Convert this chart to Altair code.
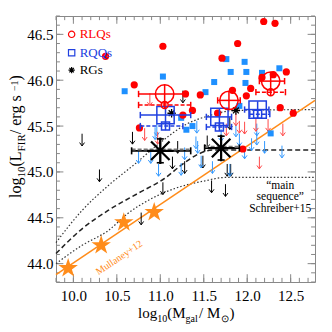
import altair as alt
import pandas as pd

XMIN, XMAX = 9.8, 12.78
YMIN, YMAX = 43.8, 46.7
W, H = 259, 266
SERIF = "Liberation Serif"

RED = "#ff0000"
RED_ARR = "#ff4a4a"
BLUE_PT = "#1e90ff"
BLUE_ARR = "#3399ff"
BLUE_BIG = "#2040e0"
ORANGE = "#ff8c1a"

# ---- data ----
x_major = [10.0, 10.5, 11.0, 11.5, 12.0, 12.5]
y_major = [44.0, 44.5, 45.0, 45.5, 46.0, 46.5]
x_minor = [round(9.8 + 0.1 * i, 2) for i in range(30)]
y_minor = [round(43.8 + 0.1 * i, 2) for i in range(30)]

rlq_x = [10.37, 11.03, 10.70, 10.76, 12.19, 12.32, 11.89, 11.71, 12.45, 12.17, 12.30,
         12.04, 11.83, 11.99, 11.46, 11.29, 11.37, 11.26, 12.38, 12.53, 11.66, 11.95]
rlq_y = [46.26, 46.37, 45.95, 45.48, 46.64, 46.62, 46.40, 46.24, 46.09, 46.03, 46.06,
         45.91, 45.89, 45.83, 45.84, 45.85, 45.67, 45.62, 45.70, 45.64, 45.64, 45.25]

rqq_x = [10.59, 11.03, 11.76, 11.97, 11.81, 11.99, 11.98, 12.17, 12.37, 11.52, 12.27,
         11.30, 11.91, 11.37, 11.24, 11.62]
rqq_y = [45.88, 46.04, 46.23, 46.20, 46.09, 46.09, 45.97, 46.08, 46.13, 45.87, 45.42,
         45.46, 45.72, 45.50, 45.59, 45.98]

rg_x = [11.13, 11.87]
rg_y = [45.64, 45.67]

blk_arr_x = [10.10, 10.68, 10.30, 10.78, 11.03, 11.26, 11.20, 11.28, 11.49, 11.14,
             11.54, 11.59, 11.75, 11.77, 11.81, 11.80]
blk_arr_y = [45.35, 45.37, 44.96, 44.49, 44.82, 45.82, 45.27, 45.05, 45.11, 45.10,
             45.33, 44.84, 44.80, 45.02, 45.02, 45.53]

blu_arr_x = [10.98, 11.24, 11.43, 11.47, 11.60, 11.80, 11.91, 11.97, 12.11, 12.11,
             12.40, 12.20, 11.42, 10.75, 10.89, 10.94, 11.41, 10.96, 11.28, 11.70,
             11.87, 12.05]
blu_arr_y = [45.02, 45.03, 45.27, 45.11, 45.05, 45.02, 45.35, 45.21, 45.46, 45.36,
             45.22, 45.27, 45.49, 45.16, 45.16, 45.42, 45.32, 45.46, 45.20, 45.40,
             45.45, 45.30]

red_arr_x = [11.91, 11.97, 12.10, 12.24, 11.76, 12.41, 12.14, 10.82, 10.88, 10.97, 11.87]
red_arr_y = [45.49, 45.48, 45.51, 45.51, 45.46, 45.46, 45.10, 45.41, 45.79, 45.37, 45.57]

# stacked RLQs (solid) and their dashed counterparts
rlq_big_x = [11.05, 11.79, 12.27]
rlq_big_y = [45.85, 45.78, 45.99]
rlq_big_xlo = [10.75, 11.66, 12.14]
rlq_big_xhi = [11.29, 11.92, 12.43]
rlq_sm_x = [11.05, 12.27]
rlq_sm_y = [45.73, 45.87]
rlq_sm_xlo = [10.75, 12.10]
rlq_sm_xhi = [11.35, 12.44]

rqq_big_x = [11.06, 11.68, 12.12]
rqq_big_y = [45.62, 45.60, 45.68]
rqq_big_xlo = [10.77, 11.53, 11.97]
rqq_big_xhi = [11.35, 11.82, 12.25]
rqq_sm_x = [11.06, 11.68, 12.12]
rqq_sm_y = [45.50, 45.49, 45.63]
rqq_sm_xlo = [10.77, 11.53, 12.03]
rqq_sm_xhi = [11.26, 11.82, 12.26]

rg_big_x = [11.00, 11.70]
rg_big_y = [45.23, 45.26]
rg_big_xlo = [10.67, 11.51]
rg_big_xhi = [11.35, 11.91]

star_x = [9.94, 10.32, 10.58, 10.93]
star_y = [43.95, 44.20, 44.45, 44.56]
mull_x = [9.8, 12.78]
mull_y = [43.88, 45.78]

ms_hi_x = [9.8, 10.1, 10.4, 10.7, 11.0, 11.3, 11.55, 11.85, 12.78]
ms_hi_y = [44.23, 44.58, 44.85, 45.08, 45.32, 45.52, 45.61, 45.67, 45.68]
ms_mid_x = [9.8, 10.1, 10.4, 10.75, 11.05, 11.25, 11.45, 11.6, 12.78]
ms_mid_y = [44.11, 44.38, 44.58, 44.77, 44.93, 45.08, 45.20, 45.24, 45.24]
ms_lo_x = [9.8, 10.1, 10.4, 10.63, 10.88, 11.2, 11.5, 11.75, 12.78]
ms_lo_y = [44.0, 44.2, 44.36, 44.55, 44.70, 44.83, 44.90, 44.94, 44.94]

legend_labels = ["RLQs", "RQQs", "RGs"]
legend_y = [46.50, 46.30, 46.11]
legend_x = 9.98

ms_text = ["\u201cmain", "sequence\u201d", "Schreiber+15"]
ms_text_x = 12.38
ms_text_y = [44.85, 44.725, 44.60]

mull_label = "Mullaney+12"
mull_label_x = 10.27
mull_label_y = 43.90

# ---- helpers ----
xs = alt.Scale(domain=[XMIN, XMAX], nice=False, zero=False)
ys = alt.Scale(domain=[YMIN, YMAX], nice=False, zero=False)
AXX = alt.Axis(values=x_major, format=".1f", ticks=False, domain=False, grid=False, title=None,
               labelFont=SERIF, labelFontSize=15, labelColor="black", labelPadding=6)
AXY = alt.Axis(values=y_major, format=".1f", ticks=False, domain=False, grid=False, title=None,
               labelFont=SERIF, labelFontSize=15, labelColor="black", labelPadding=3)

def X(f="x"):
    return alt.X(f"{f}:Q", scale=xs, axis=AXX)

def Y(f="y"):
    return alt.Y(f"{f}:Q", scale=ys, axis=AXY)

def df(**kw):
    return pd.DataFrame(kw)

ARROW = "M0,-1L0,1M-0.4,0.45L0,1L0.4,0.45"
VCAP = "M0,-1L0,1"
HCAP = "M-1,0L1,0"
AST = "M-1,0L1,0M0,-1L0,1M-0.7,-0.7L0.7,0.7M-0.7,0.7L0.7,-0.7"
STAR = ("M0,-1L0.225,-0.309L0.951,-0.309L0.363,0.118L0.588,0.809L0,0.382"
        "L-0.588,0.809L-0.363,0.118L-0.951,-0.309L-0.225,-0.309Z")

layers = []

# frame ticks (inward)
MJx, MNx = 0.085, 0.045
MJy, MNy = 0.085, 0.045
tb = pd.concat([
    df(x=x_major, y=[YMIN] * 6, y2=[YMIN + MJy] * 6),
    df(x=x_minor, y=[YMIN] * 30, y2=[YMIN + MNy] * 30),
    df(x=x_major, y=[YMAX] * 6, y2=[YMAX - MJy] * 6),
    df(x=x_minor, y=[YMAX] * 30, y2=[YMAX - MNy] * 30),
], ignore_index=True)
layers.append(alt.Chart(tb).mark_rule(color="#888", strokeWidth=1).encode(x=X(), y=Y(), y2="y2:Q"))
tl = pd.concat([
    df(y=y_major, x=[XMIN] * 6, x2=[XMIN + MJx] * 6),
    df(y=y_minor, x=[XMIN] * 30, x2=[XMIN + MNx] * 30),
    df(y=y_major, x=[XMAX] * 6, x2=[XMAX - MJx] * 6),
    df(y=y_minor, x=[XMAX] * 30, x2=[XMAX - MNx] * 30),
], ignore_index=True)
layers.append(alt.Chart(tl).mark_rule(color="#888", strokeWidth=1).encode(x=X(), x2="x2:Q", y=Y()))

# main sequence curves
layers.append(alt.Chart(df(x=ms_hi_x, y=ms_hi_y)).mark_line(
    color="#333", strokeDash=[1.5, 2], strokeWidth=1.2, interpolate="monotone").encode(x=X(), y=Y()))
layers.append(alt.Chart(df(x=ms_mid_x, y=ms_mid_y)).mark_line(
    color="#222", strokeDash=[5, 3], strokeWidth=1.5, interpolate="monotone").encode(x=X(), y=Y()))
layers.append(alt.Chart(df(x=ms_lo_x, y=ms_lo_y)).mark_line(
    color="#333", strokeDash=[1.5, 2], strokeWidth=1.2, interpolate="monotone").encode(x=X(), y=Y()))

# Mullaney relation
layers.append(alt.Chart(df(x=mull_x, y=mull_y)).mark_line(color=ORANGE, strokeWidth=1.5).encode(x=X(), y=Y()))
layers.append(alt.Chart(df(x=star_x, y=star_y)).mark_point(
    shape=STAR, filled=True, size=420, color=ORANGE, opacity=1).encode(x=X(), y=Y()))

# upper-limit arrows
for ax_, ay_, col in [(blk_arr_x, blk_arr_y, "black"), (blu_arr_x, blu_arr_y, BLUE_ARR),
                      (red_arr_x, red_arr_y, RED_ARR)]:
    layers.append(alt.Chart(df(x=ax_, y=ay_)).mark_point(
        shape=ARROW, filled=False, size=150, color=col, strokeWidth=1, opacity=1).encode(x=X(), y=Y()))

# individual detections
layers.append(alt.Chart(df(x=rqq_x, y=rqq_y)).mark_point(
    shape="square", filled=True, size=36, color=BLUE_PT, opacity=1).encode(x=X(), y=Y()))
layers.append(alt.Chart(df(x=rlq_x, y=rlq_y)).mark_point(
    shape="circle", filled=True, size=52, color=RED, opacity=1).encode(x=X(), y=Y()))
layers.append(alt.Chart(df(x=rg_x, y=rg_y)).mark_point(
    shape=AST, filled=False, size=70, color="black", strokeWidth=1.3, opacity=1).encode(x=X(), y=Y()))

def stack(xv, yv, xlo, xhi, yerr, col, shape, size, dash, sw):
    d = df(x=xv, y=yv, xlo=xlo, xhi=xhi,
           ylo=[v - yerr for v in yv], yhi=[v + yerr for v in yv])
    kw = dict(color=col, strokeWidth=sw)
    if dash:
        kw["strokeDash"] = [4, 2]
    out = [
        alt.Chart(d).mark_rule(**kw).encode(x=X("xlo"), x2="xhi:Q", y=Y()),
        alt.Chart(d).mark_rule(color=col, strokeWidth=sw).encode(x=X(), y=Y("ylo"), y2="yhi:Q"),
        alt.Chart(d).mark_point(shape=VCAP, filled=False, size=40, color=col, strokeWidth=sw,
                                opacity=1).encode(x=X("xlo"), y=Y()),
        alt.Chart(d).mark_point(shape=VCAP, filled=False, size=40, color=col, strokeWidth=sw,
                                opacity=1).encode(x=X("xhi"), y=Y()),
        alt.Chart(d).mark_point(shape=shape, filled=False, size=size, color=col, strokeWidth=sw,
                                opacity=1).encode(x=X(), y=Y()),
    ]
    return out

layers += stack(rqq_sm_x, rqq_sm_y, rqq_sm_xlo, rqq_sm_xhi, 0.045, BLUE_BIG, "square", 64, True, 1.5)
layers += stack(rqq_big_x, rqq_big_y, rqq_big_xlo, rqq_big_xhi, 0.09, BLUE_BIG, "square", 300, False, 1.5)
layers += stack(rlq_sm_x, rlq_sm_y, rlq_sm_xlo, rlq_sm_xhi, 0.04, RED, "circle", 49, True, 1.5)
layers += stack(rlq_big_x, rlq_big_y, rlq_big_xlo, rlq_big_xhi, 0.10, RED, "circle", 340, False, 1.5)

# radio galaxies stacks
rgd = df(x=rg_big_x, y=rg_big_y, xlo=rg_big_xlo, xhi=rg_big_xhi,
         y2=[v + 0.015 for v in rg_big_y],
         ylo=[v - 0.13 for v in rg_big_y], yhi=[v + 0.13 for v in rg_big_y])
layers.append(alt.Chart(rgd).mark_rule(color="black", strokeWidth=1.6).encode(x=X("xlo"), x2="xhi:Q", y=Y()))
layers.append(alt.Chart(rgd).mark_rule(color="#777", strokeWidth=2, strokeDash=[4, 2]).encode(
    x=X("xlo"), x2="xhi:Q", y=Y("y2")))
layers.append(alt.Chart(rgd).mark_rule(color="black", strokeWidth=1.6).encode(x=X(), y=Y("ylo"), y2="yhi:Q"))
for f in ["xlo", "xhi"]:
    layers.append(alt.Chart(rgd).mark_point(shape=VCAP, filled=False, size=50, color="black",
                                            strokeWidth=1.6, opacity=1).encode(x=X(f), y=Y()))
for f in ["ylo", "yhi"]:
    layers.append(alt.Chart(rgd).mark_point(shape=HCAP, filled=False, size=50, color="black",
                                            strokeWidth=1.6, opacity=1).encode(x=X(), y=Y(f)))
layers.append(alt.Chart(rgd).mark_point(shape=AST, filled=False, size=700, color="black",
                                        strokeWidth=2.2, opacity=1).encode(x=X(), y=Y()))

# legend
leg_cols = [RED, BLUE_BIG, "black"]
leg_shapes = ["circle", "square", AST]
for i in range(3):
    row = df(x=[legend_x], y=[legend_y[i]], label=[legend_labels[i]])
    layers.append(alt.Chart(row).mark_point(shape=leg_shapes[i], filled=False, size=40,
                                            color=leg_cols[i], strokeWidth=1.2,
                                            opacity=1).encode(x=X(), y=Y()))
    layers.append(alt.Chart(row).mark_text(align="left", baseline="middle", dx=8, font=SERIF,
                                           fontSize=13, color=leg_cols[i]).encode(
        x=X(), y=Y(), text="label:N"))

# annotations
layers.append(alt.Chart(df(x=[ms_text_x] * 3, y=ms_text_y, t=ms_text)).mark_text(
    align="center", baseline="middle", font=SERIF, fontSize=11.5, color="black").encode(
    x=X(), y=Y(), text="t:N"))
layers.append(alt.Chart(df(x=[mull_label_x], y=[mull_label_y], t=[mull_label])).mark_text(
    align="left", baseline="middle", font=SERIF, fontSize=10, color=ORANGE, angle=326).encode(
    x=X(), y=Y(), text="t:N"))

# axis titles built from pieces for sub/superscripts
one = df(a=[0])
def piece(txt, px, py, size, angle=0):
    return alt.Chart(one).mark_text(text=txt, align="left", baseline="alphabetic", font=SERIF,
                                    fontSize=size, color="black", angle=angle).encode(
        x=alt.value(px), y=alt.value(py))

XB = 302
xt = [("log", 82, XB, 15), ("10", 101.2, XB + 4, 10), ("(M", 111.2, XB, 15), ("gal", 129.5, XB + 4, 10),
      (" / M", 143, XB, 15), ("\u2299", 165, XB + 4, 10), (")", 173.5, XB, 15)]
for t, px, py, s in xt:
    layers.append(piece(t, px, py, s))

YB = -35
yt = [("log", YB, 182, 16), ("10", YB + 4, 161.5, 11), ("(L", YB, 150.5, 16), ("FIR", YB + 4, 135.4, 11),
      (" / erg s", YB, 118.2, 16), ("\u22121", YB - 3.5, 75.1, 10), (")", YB, 64.5, 16)]
for t, px, py, s in yt:
    layers.append(piece(t, px, py, s, angle=270))

chart = alt.layer(*layers).properties(
    width=W, height=H,
    autosize=alt.AutoSizeParams(type="none"),
    padding={"left": 48, "top": 8, "right": 9, "bottom": 42},
).configure_view(stroke="#888", strokeWidth=1)

chart.save("out.html", embed_options={"renderer": "svg", "actions": False})
